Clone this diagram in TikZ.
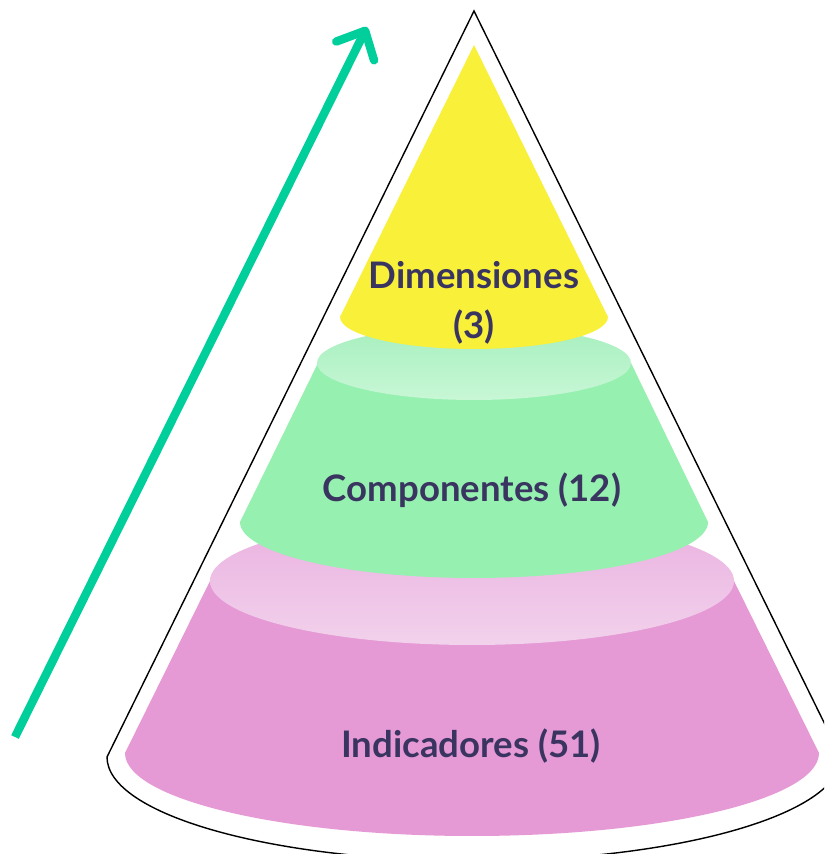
\documentclass[tikz,border=0pt]{standalone}
\usepackage{fontspec}
\setmainfont{Lato}
\usetikzlibrary{arrows.meta}
\definecolor{coneyellow}{RGB}{249,240,58}
\definecolor{conegreen}{RGB}{150,240,176}
\definecolor{greentop}{RGB}{166,239,190}
\definecolor{greenlow}{RGB}{200,247,214}
\definecolor{conepink}{RGB}{229,153,213}
\definecolor{pinktop}{RGB}{234,176,224}
\definecolor{pinklow}{RGB}{242,210,236}
\definecolor{arrowteal}{RGB}{0,207,155}
\definecolor{labelink}{RGB}{58,53,96}

\begin{document}
\begin{tikzpicture}[x=0.025cm,y=0.025cm]
\tikzstyle{label}=[text=labelink,font=\bfseries\fontsize{26}{35.5}\selectfont,align=center,inner sep=0pt]

\useasboundingbox (0,0) rectangle (824,854);
\clip (0,0) rectangle (824,854);

% outline of the cone
\draw [line width=1pt,fill=white] (474,843) -- (107,97) arc[start angle=180,end angle=360,x radius=367,y radius=104] -- cycle;

% bottom level
\fill [conepink] (210,273) -- (125,101) arc[start angle=180,end angle=360,x radius=347,y radius=83] -- (734,273) -- cycle;
\shade [top color=pinktop,bottom color=pinklow] (472,273) ellipse [x radius=262,y radius=64];

% middle level
\fill [conegreen] (318,491) -- (240,332) arc[start angle=180,end angle=360,x radius=234,y radius=56] -- (631,491) -- cycle;
\shade [top color=greentop,bottom color=greenlow] (474,491) ellipse [x radius=157,y radius=37];

% top level
\fill [coneyellow] (474,809) -- (340,537) arc[start angle=180,end angle=360,x radius=134,y radius=32] -- cycle;

\node (Dim) [label] at (474,551) {Dimensiones\\(3)};
\node (Comp) [label] at (472,364) {Componentes (12)};
\node (Ind) [label] at (471,108) {Indicadores (51)};

\coordinate (tail) at (15,117);
\coordinate (tip) at (367,827);
\draw [arrowteal,line width=6pt,-{Straight Barb[length=16pt,width=30pt,line cap=round,line join=round]}] (tail) -- (tip);

\end{tikzpicture}
\end{document}
